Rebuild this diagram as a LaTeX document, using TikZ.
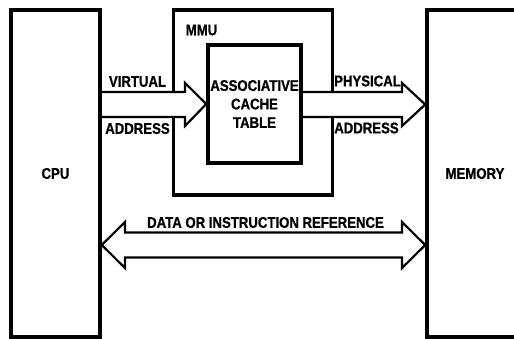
\documentclass[tikz,border=0pt]{standalone}
\usepackage{fontspec}
\setmainfont{Liberation Sans}[FakeStretch=0.85,BoldFeatures={FakeBold=0.8}]
\tikzset{
	block/.style={draw,line width=3.5pt,inner sep=0pt,font=\fontsize{15.5}{18.5}\selectfont\bfseries},
	bus/.style={draw,line width=2.2pt},
	lbl/.style={inner sep=0pt,font=\fontsize{15.5}{18.5}\selectfont\bfseries}
}
\begin{document}
\begin{tikzpicture}[x=1pt,y=-1pt]
	\clip (0,0) rectangle (514,339);
	\node[block,minimum width=89pt,minimum height=327pt] (cpu) at (55.5,173.5) {CPU};
	\node[block,minimum width=96pt,minimum height=327pt] (mem) at (475,173.5) {MEMORY};
	\node[block,minimum width=159pt,minimum height=185pt] (mmu) at (253,102.5) {};
	\node[block,minimum width=93pt,minimum height=118pt,align=center] (cache) at (254.5,104)
		{ASSOCIATIVE\\CACHE\\TABLE};
	% gaps where the address buses pass the MMU wall
	\fill[white] (mmu.west |- 0,92.5) ++(-4,0) rectangle ++(8,24)
				 (mmu.east |- 0,92.5) ++(-4,0) rectangle ++(8,24);
	\draw[bus]	(cpu.east |- 0,92) -- (185,92) -- (185,83) -- (cache.west)
				-- (185,126) -- (185,117) -- (cpu.east |- 0,117);
	\draw[bus]	(cache.east |- 0,92) -- (402,92) -- (402,83) -- (mem.west |- 0,104.5)
				-- (402,126) -- (402,117) -- (cache.east |- 0,117);
	\draw[bus]	(cpu.east |- 0,245) -- (125,222) -- (125,232.5) -- (402,232.5) -- (402,222)
				-- (mem.west |- 0,245) -- (402,268) -- (402,257.5) -- (125,257.5) -- (125,268) -- cycle;
	\node[lbl] (mmulbl) at (201.5,30) {MMU};
	\node[lbl] (virt) at (137.5,81.5) {VIRTUAL};
	\node[lbl] (vaddr) at (137.5,128.5) {ADDRESS};
	\node[lbl] (phys) at (367.5,81) {PHYSICAL};
	\node[lbl] (paddr) at (366.5,128) {ADDRESS};
	\node[lbl] (ref) at (265.5,222.5) {DATA OR INSTRUCTION REFERENCE};
\end{tikzpicture}
\end{document}
